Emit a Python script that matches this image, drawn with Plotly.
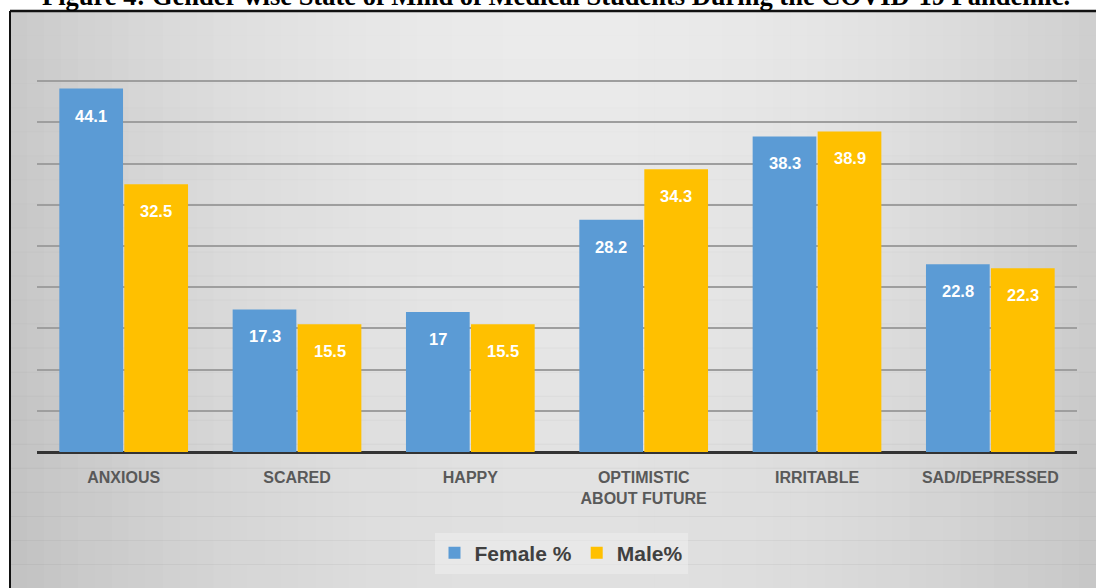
import plotly.graph_objects as go

# Survey results: state of mind by gender (percent of respondents)
categories = ["ANXIOUS", "SCARED", "HAPPY", "OPTIMISTIC<br>ABOUT FUTURE", "IRRITABLE", "SAD/DEPRESSED"]
female_pct = [44.1, 17.3, 17, 28.2, 38.3, 22.8]
male_pct = [32.5, 15.5, 15.5, 34.3, 38.9, 22.3]
series_names = ["Female %", "Male%"]

BLUE = "#5b9bd5"
GOLD = "#ffc000"

W, H = 1096, 588
L, R, T, B = 37, 19, 40, 136
PW, PH = W - L - R, H - T - B


def px_to_paper_x(px):
    return (px - L) / PW


def px_to_paper_y(py):
    return (H - B - py) / PH


fig = go.Figure()
fig.add_trace(go.Bar(x=categories, y=female_pct, name=series_names[0],
                     marker=dict(color=BLUE, line=dict(width=0))))
fig.add_trace(go.Bar(x=categories, y=male_pct, name=series_names[1],
                     marker=dict(color=GOLD, line=dict(width=0))))

BARGAP, GROUPGAP = 0.25, 0.02
half = (1 - BARGAP) / 4  # centre offset of each bar inside its group

annotations = []
for i in range(len(categories)):
    for vals, sign in ((female_pct, -1), (male_pct, 1)):
        v = vals[i]
        annotations.append(dict(
            x=i + sign * half, y=v, xref="x", yref="y",
            text=f"{v:g}", showarrow=False, yanchor="middle", yshift=-27,
            font=dict(family="Liberation Sans", size=16.5, color="white", weight="bold"),
        ))

# Figure caption, partly running off the top of the page
annotations.append(dict(
    x=px_to_paper_x(556), y=px_to_paper_y(13), xref="paper", yref="paper",
    xanchor="center", yanchor="bottom", showarrow=False,
    text="Figure 4: Gender wise State of Mind of Medical Students During the COVID-19 Pandemic.",
    font=dict(family="Liberation Serif", size=26.5, color="black", weight="bold"),
))

# Soft grey background with darker edges
shapes = []
frame_x0, frame_y0 = 10, 11
n_strips = 64
for k in range(n_strips):
    a = frame_x0 + (W - frame_x0) * k / n_strips
    b = frame_x0 + (W - frame_x0) * (k + 1) / n_strips + 1
    t = ((a + b) / 2 - frame_x0) / (W - frame_x0)
    d = (t - 0.52) / 0.52
    g = int(round(236 - 34 * d * d))
    shapes.append(dict(type="rect", xref="paper", yref="paper", layer="below",
                       x0=px_to_paper_x(a), x1=px_to_paper_x(b),
                       y0=px_to_paper_y(H + 5), y1=px_to_paper_y(frame_y0),
                       fillcolor=f"rgb({g},{g},{g})", line=dict(width=0)))
n_rows = 24
for k in range(n_rows):
    a = frame_y0 + (H - frame_y0) * k / n_rows
    b = frame_y0 + (H - frame_y0) * (k + 1) / n_rows + 1
    t = ((a + b) / 2 - frame_y0) / (H - frame_y0)
    op = 0.10 * t
    shapes.append(dict(type="rect", xref="paper", yref="paper", layer="below",
                       x0=px_to_paper_x(frame_x0), x1=px_to_paper_x(W + 5),
                       y0=px_to_paper_y(b), y1=px_to_paper_y(a),
                       fillcolor=f"rgba(120,120,120,{op:.3f})", line=dict(width=0)))

# Black frame edges (left and top)
shapes.append(dict(type="line", xref="paper", yref="paper", layer="above",
                   x0=px_to_paper_x(frame_x0), x1=px_to_paper_x(frame_x0),
                   y0=px_to_paper_y(H + 5), y1=px_to_paper_y(frame_y0),
                   line=dict(color="#111111", width=2)))
shapes.append(dict(type="line", xref="paper", yref="paper", layer="above",
                   x0=px_to_paper_x(frame_x0), x1=px_to_paper_x(W + 5),
                   y0=px_to_paper_y(frame_y0), y1=px_to_paper_y(frame_y0),
                   line=dict(color="#111111", width=2.5)))

fig.update_layout(
    width=W, height=H,
    margin=dict(l=L, r=R, t=T, b=B, pad=0),
    paper_bgcolor="white",
    plot_bgcolor="rgba(0,0,0,0)",
    barmode="group", bargap=BARGAP, bargroupgap=GROUPGAP,
    showlegend=True,
    legend=dict(orientation="h", x=px_to_paper_x(561), y=px_to_paper_y(553),
                xanchor="center", yanchor="middle",
                bgcolor="rgba(238,238,238,0.55)",
                font=dict(family="Liberation Sans", size=21, color="#404040", weight="bold"),
                itemwidth=30, traceorder="normal"),
    xaxis=dict(showgrid=False, showline=False, ticks="", ticklabelstandoff=14,
               tickfont=dict(family="Liberation Sans", size=16, color="#595959", weight="bold")),
    yaxis=dict(range=[0, 50], dtick=5, showticklabels=False, ticks="",
               showgrid=True, gridcolor="#9e9e9e", gridwidth=1.5,
               zeroline=True, zerolinecolor="#333333", zerolinewidth=2.5),
    annotations=annotations,
    shapes=shapes,
)

fig.write_html("out.html")
